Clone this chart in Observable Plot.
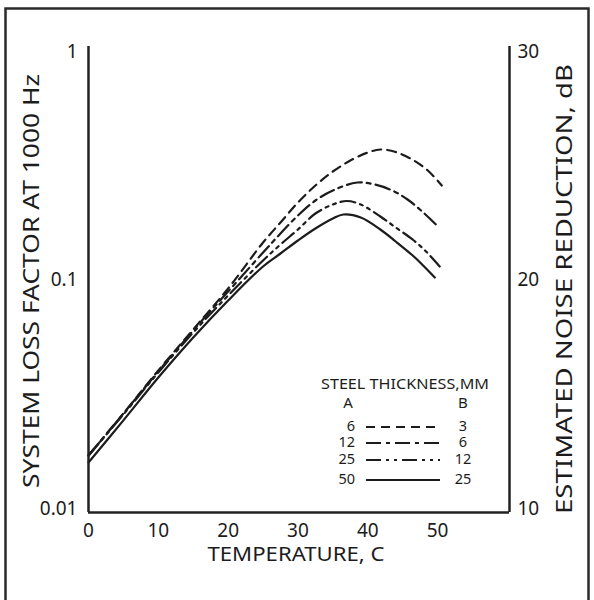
<!DOCTYPE html>
<html><head><meta charset="utf-8">
<script src="https://cdn.jsdelivr.net/npm/d3@7"></script>
<script src="https://cdn.jsdelivr.net/npm/@observablehq/plot@0.6"></script>
<style>
html,body{margin:0;padding:0;background:#fff;}
#wrap{position:relative;width:594px;height:600px;overflow:hidden;font-family:"Noto Sans",sans-serif;}
#wrap svg{display:block;}
#overlay{position:absolute;left:0;top:0;}
</style></head>
<body><div id="wrap"></div>
<script>
// ---- data ----
const temps50 = [0,5,10,15,20,25,27.5,30,32.5,35,36.5,39,41.8,44,46.6,48,49.6];
const loss50  = [0.0159,0.0243,0.0374,0.0560,0.0813,0.1146,0.1306,0.1489,0.1680,0.1858,0.1935,0.1877,0.1663,0.1474,0.1267,0.1151,0.1025];
const temps25 = [0,5,10,15,20,25,27.5,30,32.5,35,37,39,41.8,44,46.6,48.5,50.3];
const loss25  = [0.01705,0.02579,0.03937,0.05891,0.08553,0.1217,0.1430,0.1663,0.1954,0.2140,0.2217,0.2140,0.1896,0.1698,0.1489,0.1319,0.1146];
const temps12 = [0,5,10,15,20,25,27.5,30,32.5,35,38.5,41,43.5,45.7,47.8,49.9];
const loss12  = [0.01705,0.02605,0.03977,0.06012,0.08906,0.1319,0.1598,0.1915,0.2228,0.2465,0.2671,0.2618,0.2465,0.2251,0.1994,0.1732];
const temps6  = [0,5,10,15,20,25,27.5,30,32.5,35,37.5,40,41.8,44,46.6,48.6,50.6];
const loss6   = [0.01705,0.02605,0.04018,0.06073,0.0918,0.1459,0.1785,0.2184,0.2591,0.2984,0.3334,0.3614,0.3725,0.3633,0.3334,0.3015,0.2591];

const thickA = ["6","12","25","50"];
const thickB = ["3","6","12","25"];
const dashes = ["9,6","15,5,4,5","15,5,3,5,3,5",null];

const xTicks = [0,10,20,30,40,50];
const lossTicks = [0.01,0.1,1];
const lossTickLabels = ["0.01","0.1","1"];
const dbTickLabels = ["10","20","30"];

const xTitle = "TEMPERATURE, C";
const yTitle = "SYSTEM LOSS FACTOR AT 1000 Hz";
const y2Title = "ESTIMATED NOISE REDUCTION, dB";
const legendTitle = "STEEL THICKNESS,MM";

const xDomain = [0,60.3];
const yDomain = [0.0096,1.052];

const series = [temps6,temps12,temps25,temps50].map((t,i)=>
  t.map((T,j)=>({T, v:[loss6,loss12,loss25,loss50][i][j], s:i})));

const ink = "#1c1c1c";
const font = "Noto Sans";

const lines = series.map((d,i)=>Plot.line(d,{x:"T",y:"v",curve:"catmull-rom",stroke:ink,strokeWidth:2.2,strokeDasharray:dashes[i]||undefined}));

const chart = Plot.plot({
  width:594, height:600,
  marginLeft:88, marginRight:85, marginTop:46, marginBottom:88,
  style:{fontFamily:font, fontSize:"19px", color:ink, background:"transparent"},
  x:{domain:xDomain},
  y:{type:"log", domain:yDomain},
  marks:[
    ...lines,
    Plot.ruleX(xDomain,{stroke:"#222",strokeWidth:2.5}),
    Plot.ruleY([yDomain[0]],{stroke:"#222",strokeWidth:2.5}),
    Plot.axisX({ticks:xTicks, tickSize:0, tickPadding:11, label:null, fontSize:19}),
    Plot.axisY({anchor:"left", ticks:lossTicks, tickSize:0, tickPadding:11, label:null, fontSize:19,
      tickFormat:d=>lossTickLabels[lossTicks.indexOf(d)]}),
    Plot.axisY({anchor:"right", ticks:lossTicks, tickSize:0, tickPadding:8, label:null, fontSize:19,
      tickFormat:d=>dbTickLabels[lossTicks.indexOf(d)]})
  ]
});
document.getElementById("wrap").appendChild(chart);

// overlay: border, axis titles, legend
const svg = d3.select("#wrap").append("svg").attr("id","overlay").attr("width",594).attr("height",600)
  .style("font-family",font).attr("fill",ink);
svg.append("rect").attr("x",5.5).attr("y",8.5).attr("width",583).attr("height",640)
  .attr("fill","none").attr("stroke","#2a2a2a").attr("stroke-width",2.5);

function t(x,y,s,size,opts={}){
  const e = svg.append("text").attr("x",x).attr("y",y).attr("font-size",size)
    .attr("text-anchor",opts.anchor||"middle").attr("dominant-baseline","middle").text(s);
  if (opts.len){ e.attr("textLength",opts.len).attr("lengthAdjust","spacingAndGlyphs"); }
  if (opts.rot){ e.attr("transform",`rotate(${opts.rot},${x},${y})`); }
  return e;
}
t(296,556,xTitle,20,{len:177});
t(33,281,yTitle,22,{len:414,rot:-90});
t(566,289,y2Title,22,{len:450,rot:-90});

t(405,385,legendTitle,15,{len:168});
t(348,404,"A",15);
t(463,404,"B",15);
const rowY = [427,443,460,480];
thickA.forEach((a,i)=>{
  t(355,rowY[i],a,14.5,{anchor:"end"});
  t(463,rowY[i],thickB[i],14.5);
  const l = svg.append("line").attr("x1",366).attr("x2",440).attr("y1",rowY[i]).attr("y2",rowY[i])
    .attr("stroke",ink).attr("stroke-width",2.2);
  if (dashes[i]) l.attr("stroke-dasharray",dashes[i]);
});
</script>
</body></html>
